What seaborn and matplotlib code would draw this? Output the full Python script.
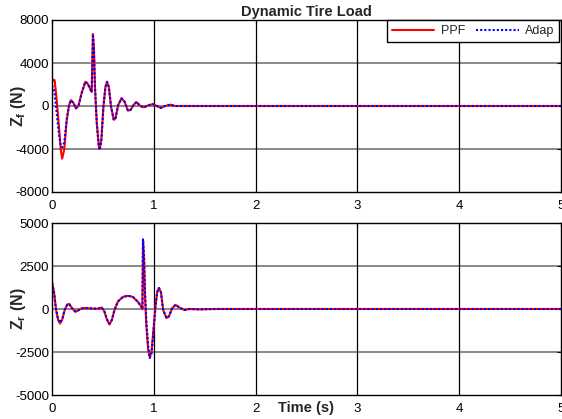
import numpy as np
import pandas as pd
import matplotlib
matplotlib.use("Agg")
import matplotlib.pyplot as plt
import seaborn as sns

# ---------------- data ----------------
t_front = [0, 0.015, 0.026, 0.043, 0.063, 0.086, 0.10, 0.12, 0.145, 0.168, 0.185, 0.21,
           0.234, 0.26, 0.29, 0.327, 0.35, 0.373, 0.39, 0.402, 0.412, 0.422, 0.44, 0.46,
           0.469, 0.485, 0.505, 0.525, 0.541, 0.558, 0.58, 0.607, 0.624, 0.65, 0.683,
           0.713, 0.746, 0.772, 0.80, 0.83, 0.868, 0.904, 0.944, 0.993, 1.03, 1.07, 1.11,
           1.16, 1.21, 1.3, 5.0]
zf_ppf = [2250, 2450, 2400, 860, -1300, -4060, -4900, -4060, -1300, 90, 550, 300,
          -215, 0, 1170, 2250, 2090, 1630, 1300, 6700, 5300, 1780, -1600, -3750,
          -4000, -3140, -60, 1780, 2250, 1780, -60, -1290, -1140, 90, 710,
          400, -430, -370, 90, 370, 0, -120, 60, 180, 0, -180, 0,
          120, 0, 0, 0]
zf_adap = [1900, 1700, 1100, -400, -2200, -3700, -3850, -3400, -1200, 100, 520, 300,
           -215, 0, 1170, 2250, 2090, 1630, 1300, 6700, 5300, 1780, -1600, -3800,
           -4100, -3140, -60, 1780, 2250, 1780, -60, -1290, -1140, 90, 710,
           400, -430, -370, 90, 370, 0, -120, 60, 180, 0, -180, 0,
           120, 0, 0, 0]

t_rear = [0, 0.02, 0.04, 0.06, 0.079, 0.10, 0.125, 0.152, 0.17, 0.198, 0.228, 0.25,
          0.284, 0.317, 0.366, 0.416, 0.455, 0.488, 0.515, 0.54, 0.564, 0.587, 0.614,
          0.647, 0.696, 0.746, 0.795, 0.845, 0.878, 0.888, 0.894, 0.904, 0.914, 0.927,
          0.944, 0.96, 0.977, 0.997, 1.016, 1.033, 1.05, 1.07, 1.092, 1.125, 1.148,
          1.18, 1.214, 1.25, 1.3, 1.35, 1.45, 1.6, 5.0]
zr_ppf = [1600, 980, -56, -620, -850, -620, -56, 280, 280, 40, -150, -110,
          20, 56, 40, 20, 20, 90, -150, -620, -900, -660, -56,
          430, 700, 770, 700, 410, 130, -20, 4000, 2950, 700, -1000,
          -2310, -2800, -2500, -1180, 130, 980, 1220, 980, -56, -530, -430,
          40, 245, 90, -60, 0, -20, 0, 0]
zr_adap = [1500, 950, -56, -600, -800, -600, -56, 280, 280, 40, -150, -110,
           20, 56, 40, 20, 20, 90, -150, -600, -850, -640, -56,
           430, 700, 770, 700, 410, 130, 0, 4050, 3100, 1000, -700,
           -2100, -2850, -2650, -1300, 100, 960, 1220, 980, -56, -530, -430,
           40, 245, 90, -60, 0, -20, 0, 0]

series_names = ["PPF", "Adap"]
xticks = [0, 1, 2, 3, 4, 5]
yticks_front = [-8000, -4000, 0, 4000, 8000]
yticks_rear = [-5000, -2500, 0, 2500, 5000]

# ---------------- style ----------------
sns.set_style("white")
plt.rcParams["font.family"] = ["Liberation Sans", "DejaVu Sans"]
plt.rcParams["mathtext.fontset"] = "custom"
plt.rcParams["mathtext.rm"] = "Liberation Sans"
plt.rcParams["mathtext.bf"] = "Liberation Sans:bold"
plt.rcParams["mathtext.it"] = "Liberation Sans:italic"

fig = plt.figure(figsize=(5.62, 4.19), dpi=100)
W, H = 562, 419
left, right = 52, 561
ax1 = fig.add_axes([left / W, 1 - 192 / H, (right - left) / W, 172 / H])
ax2 = fig.add_axes([left / W, 1 - 395 / H, (right - left) / W, 172 / H])

red = "#ff0000"
blue = "#0000ff"

def draw(ax, t, a, b, yticks, ylab):
    df = pd.DataFrame({"t": t, "PPF": a, "Adap": b})
    sns.lineplot(data=df, x="t", y="PPF", ax=ax, color=red, lw=1.5,
                 label=series_names[0], estimator=None, sort=False)
    sns.lineplot(data=df, x="t", y="Adap", ax=ax, color=blue, lw=1.5,
                 linestyle=(0, (1.0, 1.0)), label=series_names[1],
                 estimator=None, sort=False)
    ax.set_xlim(0, 5)
    ax.set_ylim(yticks[0], yticks[-1])
    ax.set_xticks(xticks)
    ax.set_yticks(yticks)
    ax.set_xticklabels([str(v) for v in xticks])
    ax.set_yticklabels([str(v) for v in yticks])
    for yv in yticks[1:-1]:
        ax.axhline(yv, color="#808080", lw=1.3, zorder=0.5)
    for xv in xticks[1:-1]:
        ax.axvline(xv, color="black", lw=0.9, zorder=0.5)
    ax.tick_params(axis="both", direction="in", length=3, labelsize=9.5,
                   top=True, right=True, colors="black")
    ax.tick_params(axis="x", pad=6)
    ax.tick_params(axis="y", pad=2)
    for s in ax.spines.values():
        s.set_color("black")
        s.set_linewidth(1.0)
    ax.set_ylabel(ylab, fontsize=11.5, fontweight="bold")
    ax.set_xlabel("")

draw(ax1, t_front, zf_ppf, zf_adap, yticks_front, r"$\mathbf{Z_f}$ (N)")
draw(ax2, t_rear, zr_ppf, zr_adap, yticks_rear, r"$\mathbf{Z_r}$ (N)")

ax1.yaxis.set_label_coords(-0.048, 0.5)
ax2.yaxis.set_label_coords(-0.048, 0.5)

ax1.set_title("Dynamic Tire Load", fontsize=10.5, fontweight="bold", pad=3)

leg = ax1.legend(loc="upper right", bbox_to_anchor=(0.997, 1.0), ncol=2,
                 fontsize=9, frameon=True, fancybox=False, framealpha=1,
                 edgecolor="black", borderaxespad=0, handlelength=3.4,
                 columnspacing=0.9, handletextpad=0.5, borderpad=0.4)
leg.get_frame().set_linewidth(1.0)
if ax2.get_legend() is not None:
    ax2.get_legend().remove()

ax2.set_xlabel("Time (s)", fontsize=10.5, fontweight="bold")
ax2.xaxis.set_label_coords(0.5, -0.035)
ax2.xaxis.label.set_va("top")

fig.savefig("out.png", dpi=100)
